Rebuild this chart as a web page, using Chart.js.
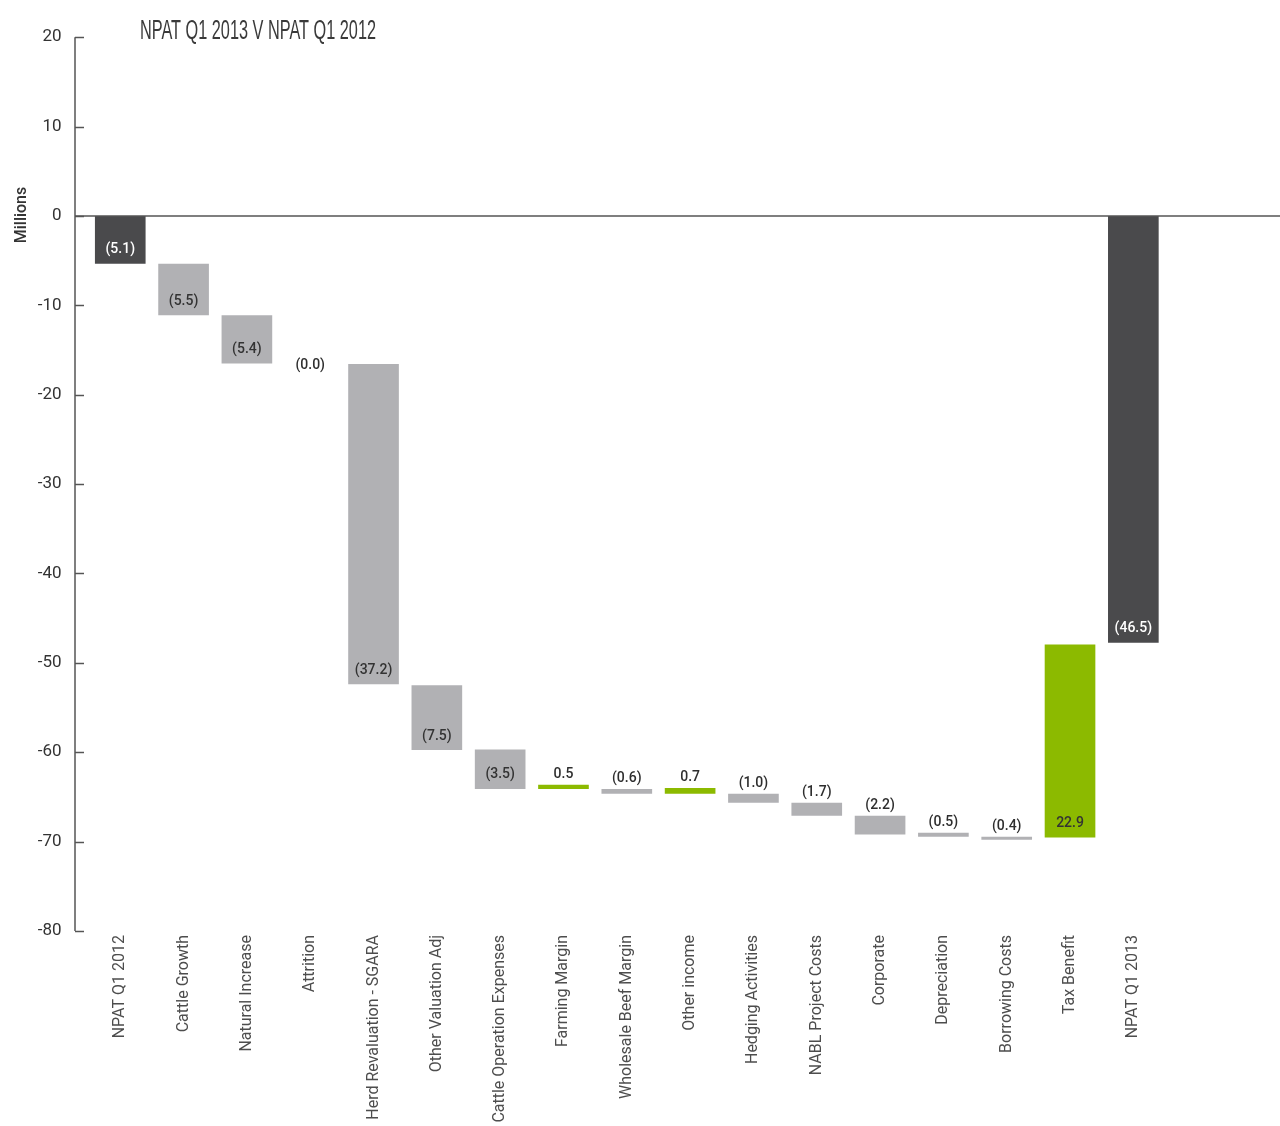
<!DOCTYPE html>
<html>
<head>
<meta charset="utf-8">
<script src="https://cdn.jsdelivr.net/npm/chart.js@4.4.1/dist/chart.umd.min.js"></script>
<style>
  html, body { margin: 0; padding: 0; background: #ffffff; }
  #wrap { position: relative; width: 1280px; height: 1126px; }
</style>
</head>
<body>
<div id="wrap"><canvas id="c"></canvas></div>
<script>
// ---- data ----
const chartTitle = 'NPAT Q1 2013 V NPAT Q1 2012';
const yAxisTitle = 'Millions';
const categories = ['NPAT Q1 2012', 'Cattle Growth', 'Natural Increase', 'Attrition',
  'Herd Revaluation - SGARA', 'Other Valuation Adj', 'Cattle Operation Expenses',
  'Farming Margin', 'Wholesale Beef Margin', 'Other income', 'Hedging Activities',
  'NABL Project Costs', 'Corporate', 'Depreciation', 'Borrowing Costs', 'Tax Benefit',
  'NPAT Q1 2013'];
const barStart = [0, -5.35, -11.1, -16.5, -16.55, -52.5, -59.7, -64.1, -64.1, -64.65,
  -64.65, -65.65, -67.1, -69.0, -69.45, -69.55, 0];
const barEnd = [-5.35, -11.1, -16.5, -16.5, -52.4, -59.75, -64.1, -63.65, -64.65, -64.0,
  -65.65, -67.1, -69.2, -69.45, -69.8, -47.95, -47.75];
const valueLabels = ['(5.1)', '(5.5)', '(5.4)', '(0.0)', '(37.2)', '(7.5)', '(3.5)', '0.5',
  '(0.6)', '0.7', '(1.0)', '(1.7)', '(2.2)', '(0.5)', '(0.4)', '22.9', '(46.5)'];
const barKind = ['total', 'neg', 'neg', 'neg', 'neg', 'neg', 'neg', 'pos', 'neg', 'pos',
  'neg', 'neg', 'neg', 'neg', 'neg', 'pos', 'total'];
const yMin = -80, yMax = 20, yStep = 10;

// ---- styles ----
const kindColor = { total: '#4a4a4c', neg: '#b1b1b4', pos: '#8cba00' };
const kindLabelColor = { total: '#ffffff', neg: '#333333', pos: '#333333' };
const AXIS_X = 75;

const floating = categories.map((c, i) => [barStart[i], barEnd[i]]);

const decorPlugin = {
  id: 'decor',
  beforeDatasetsDraw(chart) {
    const ctx = chart.ctx;
    const y = chart.scales.y;
    ctx.save();
    ctx.strokeStyle = '#555555';
    ctx.lineWidth = 1.5;
    ctx.beginPath();
    ctx.moveTo(AXIS_X, y.getPixelForValue(yMax));
    ctx.lineTo(AXIS_X, y.getPixelForValue(yMin));
    ctx.stroke();
    for (let v = yMin; v <= yMax; v += yStep) {
      const py = Math.round(y.getPixelForValue(v)) + 0.5;
      ctx.beginPath();
      ctx.moveTo(AXIS_X, py);
      ctx.lineTo(AXIS_X + 9, py);
      ctx.stroke();
    }
    ctx.restore();
  },
  afterDatasetsDraw(chart) {
    const ctx = chart.ctx;
    const y = chart.scales.y;
    ctx.save();
    const z = y.getPixelForValue(0);
    ctx.strokeStyle = '#555555';
    ctx.lineWidth = 1.5;
    ctx.beginPath();
    ctx.moveTo(AXIS_X, z);
    ctx.lineTo(chart.width, z);
    ctx.stroke();

    const meta = chart.getDatasetMeta(0);
    ctx.font = '500 14px Roboto, "Liberation Sans", sans-serif';
    ctx.textAlign = 'center';
    ctx.textBaseline = 'middle';
    meta.data.forEach((el, i) => {
      const top = Math.min(el.y, el.base);
      const bot = Math.max(el.y, el.base);
      const h = bot - top;
      let ly, col;
      if (h < 1) { ly = top + 2; col = '#2e2e2e'; }
      else if (h > 22) { ly = bot - 14; col = kindLabelColor[barKind[i]]; }
      else { ly = top - 10.5; col = '#2e2e2e'; }
      ctx.fillStyle = col;
      ctx.fillText(valueLabels[i], el.x, ly);
    });

    // title (condensed)
    ctx.font = '27px "Liberation Sans", Arial, sans-serif';
    ctx.fillStyle = '#3a3a3a';
    ctx.textAlign = 'left';
    ctx.textBaseline = 'alphabetic';
    const w = ctx.measureText(chartTitle).width;
    const sx = 236 / w;
    ctx.save();
    ctx.translate(140, 39);
    ctx.scale(sx, 1);
    ctx.fillText(chartTitle, 0, 0);
    ctx.restore();

    ctx.save();
    ctx.translate(22, 215);
    ctx.rotate(-Math.PI / 2);
    ctx.font = '500 16px Roboto, "Liberation Sans", sans-serif';
    ctx.fillStyle = '#333333';
    ctx.textAlign = 'center';
    ctx.textBaseline = 'middle';
    ctx.fillText(yAxisTitle, 0, 0);
    ctx.restore();

    ctx.restore();
  }
};

new Chart(document.getElementById('c'), {
  type: 'bar',
  data: {
    labels: categories,
    datasets: [{
      data: floating,
      backgroundColor: barKind.map(k => kindColor[k]),
      borderWidth: 0,
      barPercentage: 0.8,
      categoryPercentage: 1.0
    }]
  },
  options: {
    responsive: true,
    maintainAspectRatio: false,
    animation: false,
    events: [],
    layout: { padding: { top: 34, right: 115, bottom: 0, left: 0 } },
    plugins: {
      legend: { display: false },
      tooltip: { enabled: false },
      title: { display: false }
    },
    scales: {
      x: {
        grid: { display: false, drawTicks: false },
        border: { display: false },
        ticks: {
          autoSkip: false,
          minRotation: 90,
          maxRotation: 90,
          padding: 4,
          color: '#4d4d4d',
          font: { family: 'Roboto, "Liberation Sans", sans-serif', size: 16 }
        },
        afterFit(s) { s.height = 1126 - 931; }
      },
      y: {
        min: yMin,
        max: yMax,
        grid: { display: false, drawTicks: false },
        border: { display: false },
        ticks: {
          stepSize: yStep,
          padding: 27,
          color: '#333333',
          font: { family: 'Roboto, "Liberation Sans", sans-serif', size: 17 }
        },
        afterFit(s) { s.width = 88.6; }
      }
    }
  },
  plugins: [decorPlugin]
});
</script>
</body>
</html>
